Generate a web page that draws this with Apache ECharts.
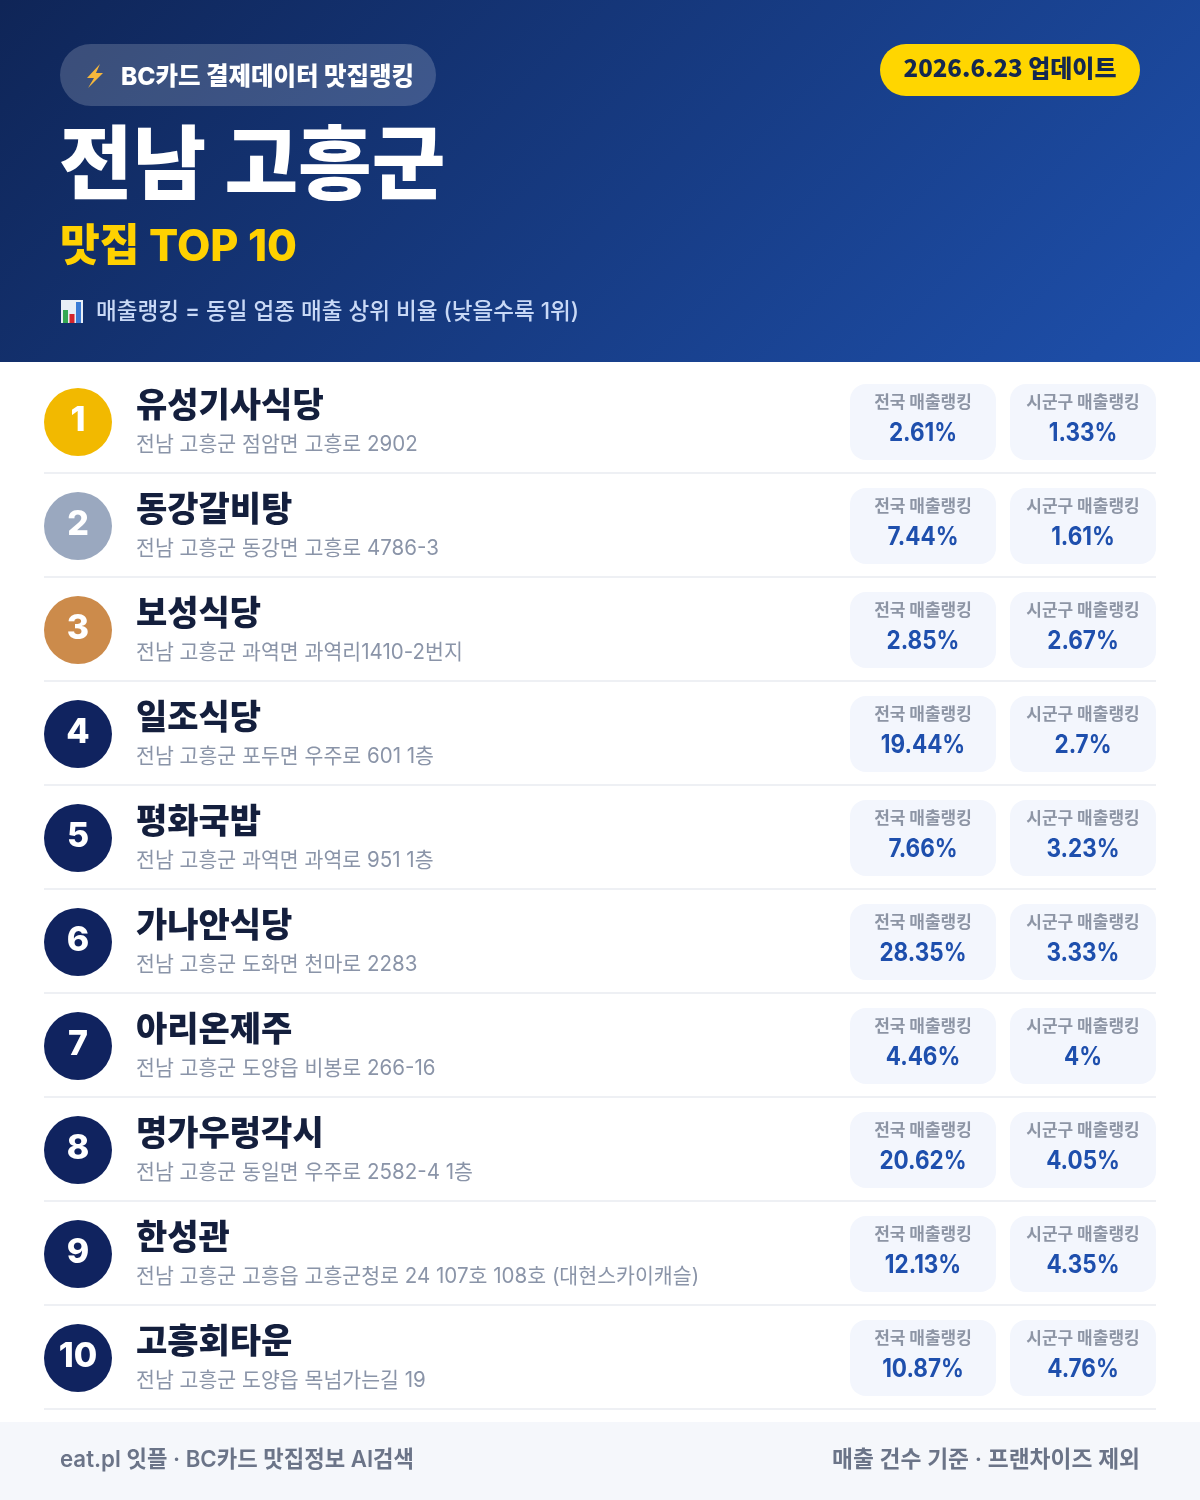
<!DOCTYPE html>
<html lang="ko">
<head>
<meta charset="utf-8">
<title>전남 고흥군 맛집 TOP 10</title>
<style>
  html, body { margin: 0; padding: 0; background: #fff; }
  #chart { width: 1200px; height: 1500px; }
</style>
<script src="https://cdn.jsdelivr.net/npm/echarts@6/dist/echarts.min.js"></script>
</head>
<body>
<div id="chart"></div>
<script>
const ranks = ['1', '2', '3', '4', '5', '6', '7', '8', '9', '10'];
const names = ['유성기사식당', '동강갈비탕', '보성식당', '일조식당', '평화국밥', '가나안식당', '아리온제주', '명가우렁각시', '한성관', '고흥회타운'];
const addresses = [
  '전남 고흥군 점암면 고흥로 2902',
  '전남 고흥군 동강면 고흥로 4786-3',
  '전남 고흥군 과역면 과역리1410-2번지',
  '전남 고흥군 포두면 우주로 601 1층',
  '전남 고흥군 과역면 과역로 951 1층',
  '전남 고흥군 도화면 천마로 2283',
  '전남 고흥군 도양읍 비봉로 266-16',
  '전남 고흥군 동일면 우주로 2582-4 1층',
  '전남 고흥군 고흥읍 고흥군청로 24 107호 108호 (대현스카이캐슬)',
  '전남 고흥군 도양읍 목넘가는길 19',
];
const nationalRank = [2.61, 7.44, 2.85, 19.44, 7.66, 28.35, 4.46, 20.62, 12.13, 10.87];
const districtRank = [1.33, 1.61, 2.67, 2.7, 3.23, 3.33, 4, 4.05, 4.35, 4.76];
const nationalLabel = '전국 매출랭킹';
const districtLabel = '시군구 매출랭킹';

// 숫자/영문은 Inter, 한글만 있는 글자는 Noto
const LATIN = 'Inter, "Noto Sans CJK KR", sans-serif';
const HANGUL = '"Noto Sans CJK KR", sans-serif';
const medalColors = ['#f2b900', '#9aa8bf', '#cc8b4b'];
const navy = '#10235f';

// scale: 자간이 없어서 가로로 살짝 줄여 폭을 맞춘다
function textEl(text, x, y, font, fill, align, scale) {
  return {
    type: 'text',
    scaleX: scale || 1,
    originX: x,
    originY: y,
    style: {
      text,
      x,
      y,
      fill,
      font,
      align: align || 'left',
      verticalAlign: 'middle',
    },
  };
}

function cardEls(top, left, label, value) {
  return [
    {
      type: 'rect',
      shape: { x: left, y: top, width: 146, height: 76, r: 16 },
      style: { fill: '#f3f6fd' },
    },
    textEl(label, left + 73, top + 18, `700 17px ${HANGUL}`, '#8d95a5', 'center'),
    textEl(`${value}%`, left + 73, top + 49, `700 25px ${LATIN}`, '#1e4fad', 'center', 0.9),
  ];
}

// 순위 한 줄
function renderRow(params, api) {
  const i = api.value(0);
  const pos = api.coord([0, i]);
  const bandH = api.size([0, 1])[1];
  const cy = pos[1];
  const medal = medalColors[i] || navy;
  return {
    type: 'group',
    children: [
      {
        type: 'circle',
        shape: { cx: 78, cy: cy + 1, r: 34 },
        style: { fill: medal },
      },
      textEl(ranks[i], 78, cy - 0.5, `800 34px ${LATIN}`, '#fff', 'center'),
      textEl(names[i], 136, cy - 17, `800 34px ${HANGUL}`, '#141f3d'),
      textEl(addresses[i], 136, cy + 23.5, `400 21px ${LATIN}`, '#8a94a8', 'left', 0.978),
      ...cardEls(cy - 37, 850, nationalLabel, nationalRank[i]),
      ...cardEls(cy - 37, 1010, districtLabel, districtRank[i]),
      {
        type: 'rect',
        shape: { x: 44, y: cy + bandH / 2 - 1, width: 1112, height: 2 },
        style: { fill: '#eef0f4' },
      },
    ],
  };
}

const headerGraphics = [
  {
    type: 'rect',
    shape: { x: 0, y: 0, width: 1200, height: 362 },
    style: {
      fill: new echarts.graphic.LinearGradient(209.5, -209.5, 990.5, 571.5, [
        { offset: 0, color: '#0f2557' },
        { offset: 1, color: '#1e50ac' },
      ], true),
    },
  },
  {
    type: 'rect',
    shape: { x: 60, y: 44, width: 376, height: 62, r: 31 },
    style: { fill: 'rgba(255,255,255,0.18)' },
  },
  // 번개 아이콘
  {
    type: 'polygon',
    shape: { points: [[100, 64], [87, 78], [94, 78], [88, 88], [103, 73], [96, 73]] },
    style: { fill: '#f6b73c' },
  },
  textEl('BC카드 결제데이터 맛집랭킹', 121, 78, `800 24.5px ${LATIN}`, '#fff'),
  {
    type: 'rect',
    shape: { x: 880, y: 44, width: 260, height: 52, r: 26 },
    style: { fill: '#ffd600' },
  },
  textEl('2026.6.23 업데이트', 1010, 68, `800 24px ${HANGUL}`, '#142850', 'center'),
  textEl('전남 고흥군', 59, 162, `900 80px ${HANGUL}`, '#fff'),
  textEl('맛집 TOP 10', 60, 248, `800 44px ${LATIN}`, '#ffd100', 'left', 0.983),
  // 막대 아이콘
  { type: 'rect', shape: { x: 61, y: 300, width: 22, height: 23 }, style: { fill: '#e8eef6' } },
  { type: 'rect', shape: { x: 63, y: 310, width: 5, height: 13 }, style: { fill: '#35a853' } },
  { type: 'rect', shape: { x: 69.5, y: 314, width: 5, height: 9 }, style: { fill: '#d5252c' } },
  { type: 'rect', shape: { x: 76, y: 302, width: 5, height: 21 }, style: { fill: '#3a7bd5' } },
  textEl('매출랭킹 = 동일 업종 매출 상위 비율 (낮을수록 1위)', 96, 312, `500 23px ${LATIN}`, '#c9d9f6', 'left', 0.98),
  // 하단 바
  { type: 'rect', shape: { x: 0, y: 1422, width: 1200, height: 78 }, style: { fill: '#f5f7fb' } },
  textEl('eat.pl 잇플 · BC카드 맛집정보 AI검색', 60, 1460, `600 22.75px ${LATIN}`, '#6b7488', 'left', 0.978),
  textEl('매출 건수 기준 · 프랜차이즈 제외', 1140, 1460, `600 22.75px ${LATIN}`, '#6b7488', 'right'),
];

const chart = echarts.init(document.getElementById('chart'), null, { renderer: 'canvas' });
chart.setOption({
  animation: false,
  backgroundColor: '#fff',
  graphic: { elements: headerGraphics },
  grid: { left: 0, top: 369, width: 1200, height: 1040 },
  xAxis: { type: 'value', min: 0, max: 1200, show: false },
  yAxis: { type: 'category', data: ranks, inverse: true, show: false },
  series: [
    {
      type: 'custom',
      coordinateSystem: 'cartesian2d',
      renderItem: renderRow,
      encode: { x: 1, y: 0 },
      data: ranks.map((_, i) => [i, 0]),
      clip: false,
    },
  ],
});
</script>
</body>
</html>
